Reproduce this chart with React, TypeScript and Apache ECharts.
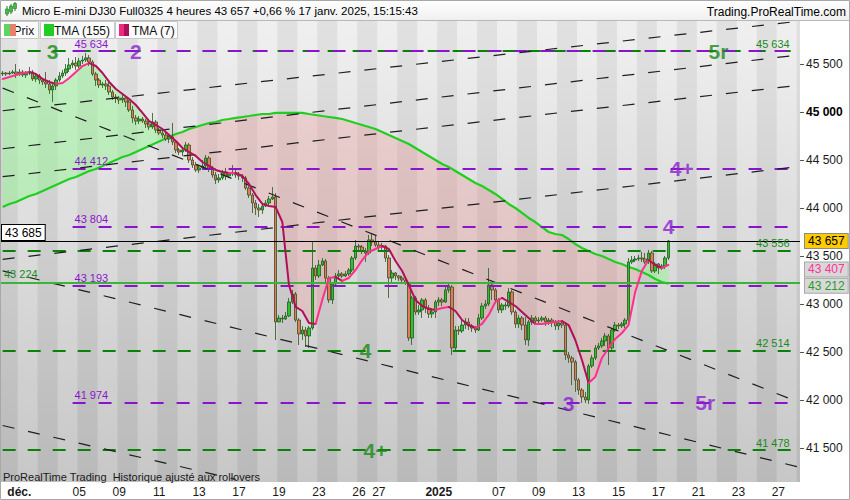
import React, { useEffect, useRef } from "react";
import * as echarts from "echarts";

// ---- DATA ----
// 4-hour candles: [open, close, low, high]
const candles: number[][] = [
  [45396, 45406, 45375, 45427], [45406, 45396, 45375, 45417], [45396, 45406, 45385, 45427], [45406, 45417, 45396, 45438],
  [45417, 45396, 45354, 45500], [45396, 45417, 45375, 45448], [45417, 45385, 45365, 45438], [45385, 45406, 45354, 45427],
  [45406, 45417, 45385, 45469], [45417, 45344, 45323, 45438], [45344, 45375, 45313, 45396], [45375, 45333, 45292, 45396],
  [45333, 45313, 45281, 45354], [45313, 45292, 45250, 45417], [45292, 45229, 45188, 45333], [45229, 45271, 45104, 45292],
  [45271, 45333, 45229, 45354], [45333, 45375, 45313, 45417], [45375, 45406, 45354, 45438], [45406, 45448, 45375, 45500],
  [45448, 45490, 45417, 45563], [45490, 45510, 45458, 45542], [45510, 45479, 45438, 45573], [45479, 45531, 45458, 45563],
  [45531, 45542, 45500, 45584], [45542, 45563, 45521, 45615], [45563, 45521, 45479, 45594], [45521, 45396, 45375, 45542],
  [45396, 45333, 45271, 45417], [45333, 45281, 45250, 45354], [45281, 45292, 45250, 45313], [45292, 45271, 45229, 45333],
  [45271, 45208, 45177, 45313], [45208, 45156, 45125, 45229], [45156, 45146, 45094, 45188], [45146, 45125, 45083, 45167],
  [45125, 45146, 45094, 45177], [45146, 45104, 45052, 45167], [45104, 45021, 45000, 45125], [45021, 44938, 44885, 45063],
  [44938, 44906, 44865, 44969], [44906, 44927, 44875, 44958], [44927, 44906, 44885, 44948], [44906, 44875, 44833, 44927],
  [44875, 44844, 44812, 44927], [44844, 44896, 44823, 44990], [44896, 44812, 44781, 44917], [44812, 44781, 44760, 44833],
  [44781, 44760, 44729, 44812], [44760, 44719, 44698, 44792], [44719, 44740, 44677, 44771], [44740, 44688, 44656, 44885],
  [44688, 44604, 44573, 44708], [44604, 44583, 44552, 44625], [44583, 44604, 44542, 44625], [44604, 44656, 44583, 44688],
  [44656, 44500, 44469, 44677], [44500, 44448, 44417, 44531], [44448, 44396, 44375, 44479], [44396, 44417, 44365, 44448],
  [44417, 44438, 44396, 44500], [44438, 44521, 44417, 44552], [44521, 44417, 44375, 44542], [44417, 44344, 44313, 44438],
  [44344, 44292, 44250, 44375], [44292, 44313, 44261, 44354], [44313, 44375, 44292, 44396], [44375, 44333, 44292, 44417],
  [44333, 44354, 44313, 44375], [44354, 44365, 44333, 44448], [44365, 44344, 44313, 44396], [44344, 44333, 44292, 44375],
  [44333, 44313, 44271, 44354], [44313, 44208, 44188, 44333], [44208, 44135, 44104, 44229], [44135, 44052, 43948, 44156],
  [44052, 44000, 43927, 44083], [44000, 43979, 43906, 44042], [43979, 44021, 43938, 44052], [44021, 44052, 44010, 44083],
  [44052, 44094, 44031, 44125], [44094, 44115, 44083, 44219], [44115, 42813, 42625, 44156], [42813, 42854, 42813, 42886],
  [42854, 42844, 42802, 42886], [42844, 42875, 42833, 42917], [42875, 43021, 42865, 43063], [43021, 43104, 43000, 43146],
  [43104, 42833, 42813, 43125], [42833, 42688, 42573, 42854], [42688, 42729, 42625, 42771], [42729, 42667, 42552, 42761],
  [42667, 42750, 42542, 42771], [42750, 43375, 42729, 43646], [43375, 43292, 43250, 43406], [43292, 43406, 43271, 43458],
  [43406, 43448, 43396, 43479], [43448, 43271, 43229, 43469], [43271, 43042, 43011, 43292], [43042, 43208, 43000, 43229],
  [43208, 43292, 43188, 43323], [43292, 43313, 43271, 43354], [43313, 43292, 43271, 43333], [43292, 43313, 43281, 43344],
  [43313, 43354, 43292, 43375], [43354, 43479, 43333, 43500], [43479, 43604, 43458, 43667], [43604, 43594, 43542, 43625],
  [43594, 43552, 43521, 43615], [43552, 43531, 43438, 43583], [43531, 43667, 43510, 43719], [43667, 43646, 43604, 43740],
  [43646, 43615, 43594, 43708], [43615, 43594, 43563, 43646], [43594, 43604, 43563, 43636], [43604, 43479, 43438, 43615],
  [43479, 43271, 43063, 43510], [43271, 43323, 43229, 43354], [43323, 43292, 43250, 43333], [43292, 43271, 43240, 43302],
  [43271, 43250, 43219, 43292], [43250, 43219, 43198, 43271], [43219, 42646, 42615, 43229], [42646, 43063, 42573, 43084],
  [43063, 42917, 42886, 43084], [42917, 42938, 42886, 42990], [42938, 43042, 42854, 43063], [43042, 42958, 42906, 43063],
  [42958, 42896, 42854, 42990], [42896, 42917, 42854, 42958], [42917, 43021, 42854, 43042], [43021, 43042, 42979, 43073],
  [43042, 43021, 42979, 43063], [43021, 43146, 43011, 43188], [43146, 43177, 43115, 43219], [43177, 42542, 42469, 43198],
  [42542, 42729, 42500, 42771], [42729, 42719, 42677, 42771], [42719, 42781, 42698, 42833], [42781, 42813, 42740, 42854],
  [42813, 42771, 42729, 42854], [42771, 42750, 42709, 42792], [42750, 42729, 42698, 42771], [42729, 42854, 42719, 42896],
  [42854, 42979, 42833, 43011], [42979, 43000, 42948, 43042], [43000, 43198, 42979, 43375], [43198, 43146, 43042, 43229],
  [43146, 43042, 43011, 43167], [43042, 42938, 42906, 43063], [42938, 42990, 42906, 43011], [42990, 42979, 42938, 43021],
  [42979, 43125, 42958, 43167], [43125, 42917, 42886, 43146], [42917, 42792, 42750, 42938], [42792, 42854, 42750, 42886],
  [42854, 42781, 42729, 42875], [42781, 42625, 42573, 42865], [42625, 42813, 42563, 42833], [42813, 42854, 42781, 42886],
  [42854, 42823, 42792, 42875], [42823, 42833, 42802, 42865], [42833, 42854, 42813, 42875], [42854, 42813, 42771, 42875],
  [42813, 42833, 42781, 42854], [42833, 42813, 42761, 42854], [42813, 42771, 42729, 42833], [42771, 42802, 42729, 42833],
  [42802, 42781, 42750, 42823], [42781, 42469, 42417, 42813], [42469, 42438, 42386, 42500], [42438, 42396, 42156, 42459],
  [42396, 42208, 42084, 42417], [42208, 42104, 42052, 42229], [42104, 42031, 41969, 42125], [42031, 42000, 41969, 42084],
  [42000, 42354, 41959, 42375], [42354, 42438, 42334, 42469], [42438, 42542, 42417, 42573], [42542, 42563, 42521, 42594],
  [42563, 42615, 42542, 42646], [42615, 42667, 42563, 42698], [42667, 42542, 42365, 42688], [42542, 42729, 42521, 42750],
  [42729, 42781, 42709, 42813], [42781, 42771, 42740, 42802], [42771, 42792, 42750, 42813], [42792, 42833, 42750, 42854],
  [42833, 43438, 42813, 43479], [43438, 43458, 43417, 43500], [43458, 43469, 43438, 43500], [43469, 43479, 43448, 43510],
  [43479, 43469, 43438, 43542], [43469, 43438, 43417, 43531], [43438, 43531, 43417, 43563], [43531, 43344, 43323, 43552],
  [43344, 43417, 43323, 43438], [43417, 43375, 43313, 43427], [43375, 43396, 43354, 43417], [43396, 43479, 43365, 43500],
  [43479, 43657, 43458, 43667],
];

// TMA(7), read every second bar (bars 0, 2, 4, ... 200)
const tma7: number[] = [
  45344, 45365, 45385, 45406, 45417, 45396, 45344, 45313, 45292, 45302, 45354, 45417, 45479, 45510, 45479, 45406,
  45313, 45240, 45188, 45135, 45073, 44990, 44906, 44865, 44823, 44760, 44698, 44625, 44583, 44542, 44479, 44438,
  44396, 44375, 44365, 44365, 44333, 44250, 44135, 44042, 44021, 44010, 43854, 43198, 42969, 42927, 42802, 42792,
  43042, 43271, 43281, 43240, 43271, 43354, 43458, 43542, 43573, 43604, 43573, 43448, 43344, 43198, 43042, 42979,
  42948, 42938, 42958, 42969, 42927, 42833, 42781, 42750, 42792, 42886, 43021, 43063, 43021, 42979, 42917, 42854,
  42792, 42792, 42802, 42813, 42823, 42781, 42625, 42417, 42177, 42240, 42438, 42542, 42636, 42698, 42781, 43125,
  43344, 43458, 43406, 43375, 43407,
];

// TMA(155), read every second bar (bars 0, 2, 4, ... 200)
const tma155: number[] = [
  44010, 44042, 44063, 44094, 44125, 44146, 44177, 44208, 44240, 44271, 44302, 44323, 44354, 44386, 44406, 44438,
  44469, 44500, 44531, 44552, 44583, 44615, 44646, 44677, 44708, 44740, 44771, 44792, 44823, 44844, 44865, 44885,
  44896, 44917, 44927, 44938, 44948, 44958, 44969, 44979, 44979, 44990, 44990, 44990, 44990, 44990, 44979, 44969,
  44958, 44948, 44938, 44927, 44906, 44885, 44865, 44844, 44823, 44792, 44760, 44729, 44698, 44667, 44625, 44583,
  44542, 44500, 44458, 44427, 44386, 44344, 44302, 44261, 44229, 44188, 44146, 44094, 44042, 44000, 43948, 43896,
  43854, 43802, 43750, 43729, 43719, 43677, 43625, 43583, 43552, 43521, 43500, 43469, 43438, 43417, 43386, 43365,
  43333, 43302, 43261, 43229, 43212,
];

// trading days shown on the time axis (from 2 Dec 2024)
const dayLabels = [
  "déc.", "03", "04", "05", "06", "09", "10", "11", "12", "13", "16", "17", "18", "19", "20", "23", "24", "26", "27", "30",
  "31", "2025", "03", "06", "07", "08", "09", "10", "13", "14", "15", "16", "17", "20", "21", "22", "23", "24", "27", "28",
];
const shownDays = [0, 3, 5, 7, 9, 11, 13, 15, 17, 18, 21, 24, 26, 28, 30, 32, 34, 36, 38];
const boldDays = ["déc.", "2025"];
const yTicks = [41500, 42000, 42500, 43000, 43500, 44000, 44500, 45000, 45500];

const greenLevels = [45634, 43556, 42514, 41478];
const purpleLevels = [45634, 44412, 43804, 43193, 41974];
const pivotLevel = 43224;
const refBoxValue = 43685;
const lastPrice = 43657;
const changePct = "+0,66 %";
const tma7Last = 43407;
const tma155Last = 43212;

// trend lines: [bar A, price A, bar B, price B]
const trendLines: number[][] = [
  [0, 45013, 239, 45945],
  [0, 44617, 239, 45594],
  [0, 44326, 239, 45278],
  [0, 43465, 239, 44431],
  [0, 45249, 239, 41979],
  [0, 43345, 239, 41302],
  [0, 41734, 70, 41173],
];

// wave labels: [text, bar, price, colour]
const waveLabels: (string | number)[][] = [
  ["3", 15, 45634, "g"], ["2", 40, 45634, "p"], ["5r", 215, 45634, "g"],
  ["4+", 204, 44412, "p"], ["4", 200, 43804, "p"], ["4", 109, 42514, "g"],
  ["3", 170, 41960, "p"], ["5r", 211, 41974, "p"], ["4+", 112, 41478, "g"],
];

// ---- LAYOUT ----
const SLOT_COUNT = 240;
const PRE_SLOTS = 5;
const BARS_PER_DAY = 6;
const FONT = '"Liberation Sans", Arial, sans-serif';
const GREEN_DASH = "#0a820a";
const GREEN_TXT = "#1a8a1a";
const PURPLE = "#8a14cc";
const PINK = "#ff2f8e";
const MAROON = "#b0105a";
const CLEAR = "rgba(0,0,0,0)";

const fmt = (v: number) => String(Math.round(v)).replace(/\B(?=(\d{3})+(?!\d))/g, " ");

const categories = Array.from({ length: SLOT_COUNT }, (_, i) => String(i));
const labelOf: Record<number, string> = {};
shownDays.forEach((d) => {
  labelOf[PRE_SLOTS + d * BARS_PER_DAY] = dayLabels[d];
});
const isDayStart = (i: number) => i === 0 || (i >= PRE_SLOTS && (i - PRE_SLOTS) % BARS_PER_DAY === 0);

function buildOption() {
  const bgGrad = new echarts.graphic.LinearGradient(0, 0, 0, 1, [
    { offset: 0, color: "#efefef" },
    { offset: 1, color: "#c4c4c4" },
  ]);
  const titleGrad = new echarts.graphic.LinearGradient(0, 0, 0, 1, [
    { offset: 0, color: "#ffffff" },
    { offset: 1, color: "#efefef" },
  ]);

  const levelLines: any[] = [];
  greenLevels.forEach((v) => {
    levelLines.push([
      {
        coord: [0, v],
        lineStyle: { color: GREEN_DASH, width: 2, type: [13, 12] },
        label: { show: true, position: "insideEndTop", formatter: fmt(v), color: GREEN_TXT, fontSize: 11, distance: 2 },
      },
      { coord: [237, v] },
    ]);
  });
  purpleLevels.forEach((v) => {
    levelLines.push([
      {
        coord: [21, v],
        lineStyle: { color: PURPLE, width: 2, type: [13, 13] },
        label: { show: true, position: "insideStartTop", formatter: fmt(v), color: PURPLE, fontSize: 11, distance: 2 },
      },
      { coord: [238, v] },
    ]);
  });
  trendLines.forEach(([a, pa, b, pb]) => {
    levelLines.push([
      { coord: [a, pa], lineStyle: { color: "#1e1e1e", width: 1.2, type: [12, 14] }, label: { show: false } },
      { coord: [b, pb] },
    ]);
  });
  const boxLabel = (text: string, color: string, bg: string, border: string, dy: number) => ({
    show: true,
    position: "end",
    formatter: text,
    color,
    backgroundColor: bg,
    borderColor: border,
    borderWidth: 1,
    padding: [1, 3, 1, 3],
    lineHeight: 12,
    fontSize: 12,
    distance: 5,
    offset: [0, dy],
  });
  levelLines.push({
    yAxis: pivotLevel,
    lineStyle: { color: "#3cb43c", width: 2, type: "solid" },
    label: { show: true, position: "insideStartTop", formatter: fmt(pivotLevel), color: GREEN_TXT, fontSize: 11, distance: 3 },
  });
  levelLines.push({
    yAxis: tma155Last,
    lineStyle: { color: CLEAR, width: 0 },
    label: boxLabel(fmt(tma155Last), "#2a9a2a", "#d8d8d8", "#a8a8a8", 2),
  });
  levelLines.push({
    yAxis: tma7Last,
    lineStyle: { color: CLEAR, width: 0 },
    label: boxLabel(fmt(tma7Last), "#ff3399", "#d8d8d8", "#a8a8a8", 4.5),
  });
  levelLines.push({
    yAxis: lastPrice,
    lineStyle: { color: "#000000", width: 1, type: "solid" },
    label: boxLabel(fmt(lastPrice), "#000000", "#ffcc00", "#8a8a8a", 0),
  });
  levelLines.push({
    yAxis: lastPrice,
    lineStyle: { color: CLEAR, width: 0 },
    label: {
      show: true,
      position: "insideStartTop",
      formatter: fmt(refBoxValue),
      color: "#000",
      backgroundColor: "#ffffff",
      borderColor: "#000000",
      borderWidth: 1,
      padding: [2, 3, 1, 3],
      fontSize: 12,
      distance: 1,
    },
  });

  const fillSeries = {
    type: "custom",
    z: 1,
    silent: true,
    data: [[0, tma155[0]]],
    renderItem: (_params: any, api: any) => {
      const p7 = tma7.map((v, k) => api.coord([k * 2, v]));
      const pb = tma155.map((v, k) => api.coord([k * 2, v]));
      const d = tma7.map((v, k) => v - tma155[k]);
      const regions: { pts: number[][]; up: boolean }[] = [];
      let top: number[][] = [p7[0]];
      let bot: number[][] = [pb[0]];
      let sign = d[0] >= 0;
      for (let k = 1; k < p7.length; k++) {
        const s = d[k] >= 0;
        if (s !== sign) {
          const t = d[k - 1] / (d[k - 1] - d[k]);
          const c = [
            p7[k - 1][0] + (p7[k][0] - p7[k - 1][0]) * t,
            p7[k - 1][1] + (p7[k][1] - p7[k - 1][1]) * t,
          ];
          top.push(c);
          bot.push(c);
          regions.push({ pts: top.concat(bot.slice().reverse()), up: sign });
          top = [c];
          bot = [c];
          sign = s;
        }
        top.push(p7[k]);
        bot.push(pb[k]);
      }
      regions.push({ pts: top.concat(bot.slice().reverse()), up: sign });
      return {
        type: "group",
        children: regions.map((r) => ({
          type: "polygon",
          shape: { points: r.pts },
          style: { fill: r.up ? "rgba(150,245,150,0.5)" : "rgba(240,150,150,0.32)", stroke: null },
        })),
      };
    },
  };

  const tma7Series = {
    type: "custom",
    z: 5,
    silent: true,
    data: [[0, tma7[0]]],
    renderItem: (_params: any, api: any) => {
      const pts = tma7.map((v, k) => api.coord([k * 2, v]));
      const children: any[] = [];
      let run: number[][] = [pts[0]];
      let up = tma7[1] >= tma7[0];
      for (let k = 1; k < pts.length; k++) {
        const u = tma7[k] >= tma7[k - 1];
        if (u !== up) {
          children.push({
            type: "polyline",
            shape: { points: run },
            style: { stroke: up ? PINK : MAROON, lineWidth: 2, fill: null, lineJoin: "round", lineCap: "round" },
          });
          run = [pts[k - 1]];
          up = u;
        }
        run.push(pts[k]);
      }
      children.push({
        type: "polyline",
        shape: { points: run },
        style: { stroke: up ? PINK : MAROON, lineWidth: 2, fill: null, lineJoin: "round", lineCap: "round" },
      });
      return { type: "group", children };
    },
  };

  const graphic: any[] = [
    { type: "rect", shape: { x: 0, y: 0, width: 850, height: 21 }, style: { fill: titleGrad }, z: 100 },
    { type: "line", shape: { x1: 0, y1: 20.5, x2: 850, y2: 20.5 }, style: { stroke: "#b8b8b8", lineWidth: 1 }, z: 101 },
    { type: "line", shape: { x1: 7, y1: 6, x2: 7, y2: 16 }, style: { stroke: "#2a7a2a", lineWidth: 1 }, z: 101 },
    { type: "rect", shape: { x: 5.5, y: 9, width: 3, height: 5 }, style: { fill: "#44bb44", stroke: "#2a7a2a", lineWidth: 0.6 }, z: 102 },
    { type: "line", shape: { x1: 11, y1: 4, x2: 11, y2: 14 }, style: { stroke: "#2a7a2a", lineWidth: 1 }, z: 101 },
    { type: "rect", shape: { x: 9.5, y: 6, width: 3, height: 6 }, style: { fill: "#44bb44", stroke: "#2a7a2a", lineWidth: 0.6 }, z: 102 },
    { type: "line", shape: { x1: 15, y1: 2, x2: 15, y2: 11 }, style: { stroke: "#2a7a2a", lineWidth: 1 }, z: 101 },
    { type: "rect", shape: { x: 13.5, y: 3.5, width: 3, height: 5 }, style: { fill: "#44bb44", stroke: "#2a7a2a", lineWidth: 0.6 }, z: 102 },
    {
      type: "text",
      x: 22,
      y: 11,
      style: {
        text: `Micro E-mini DJ30 Full0325 4 heures ${fmt(lastPrice)} ${changePct} 17 janv. 2025, 15:15:43`,
        font: `11.5px ${FONT}`,
        fill: "#000",
        textVerticalAlign: "middle",
      },
      z: 102,
    },
    {
      type: "text",
      x: 846,
      y: 12,
      style: { text: "Trading.ProRealTime.com", font: `12px ${FONT}`, fill: "#000", textAlign: "right", textVerticalAlign: "middle" },
      z: 102,
    },
    // legend
    { type: "rect", shape: { x: 0.5, y: 21.5, width: 38, height: 17 }, style: { fill: "#fbfbfb", stroke: "#c8c8c8", lineWidth: 1 }, z: 100 },
    { type: "text", x: 13.5, y: 30.5, style: { text: "Prix", font: `12px ${FONT}`, fill: "#111", textVerticalAlign: "middle" }, z: 101 },
    { type: "rect", shape: { x: 4, y: 24, width: 6, height: 12 }, style: { fill: "#5fd35f" }, z: 102 },
    { type: "rect", shape: { x: 10, y: 24, width: 6, height: 12 }, style: { fill: "#e8806e" }, z: 102 },
    { type: "rect", shape: { x: 40.5, y: 21.5, width: 74, height: 17 }, style: { fill: "#fbfbfb", stroke: "#c8c8c8", lineWidth: 1 }, z: 100 },
    { type: "rect", shape: { x: 44, y: 24, width: 10, height: 12 }, style: { fill: "#22cc22" }, z: 102 },
    { type: "text", x: 54, y: 30.5, style: { text: "TMA (155)", font: `12px ${FONT}`, fill: "#111", textVerticalAlign: "middle" }, z: 101 },
    { type: "rect", shape: { x: 115.5, y: 21.5, width: 62, height: 17 }, style: { fill: "#fbfbfb", stroke: "#c8c8c8", lineWidth: 1 }, z: 100 },
    { type: "rect", shape: { x: 119, y: 24, width: 5, height: 12 }, style: { fill: "#ee2a80" }, z: 102 },
    { type: "rect", shape: { x: 124, y: 24, width: 5, height: 12 }, style: { fill: "#a8105a" }, z: 102 },
    { type: "text", x: 132, y: 30.5, style: { text: "TMA (7)", font: `12px ${FONT}`, fill: "#111", textVerticalAlign: "middle" }, z: 101 },
    {
      type: "text",
      x: 3,
      y: 476.5,
      style: { text: "ProRealTime Trading  Historique ajusté aux rollovers", font: `11px ${FONT}`, fill: "#1a1a1a", textVerticalAlign: "middle" },
      z: 101,
    },
    { type: "rect", shape: { x: 0.5, y: 0.5, width: 849, height: 499 }, style: { fill: "none", stroke: "#a8a8a8", lineWidth: 1 }, z: 110 },
  ];

  return {
    animation: false,
    backgroundColor: "#ffffff",
    textStyle: { fontFamily: FONT },
    grid: {
      left: 1,
      right: 50,
      top: 21,
      bottom: 18,
      show: true,
      backgroundColor: bgGrad,
      borderWidth: 0,
      containLabel: false,
      outerBoundsMode: "none",
    },
    xAxis: {
      type: "category",
      data: categories,
      boundaryGap: true,
      axisLine: { show: false },
      axisTick: { show: false },
      splitLine: { show: false },
      splitArea: {
        show: true,
        interval: (i: number) => isDayStart(i),
        areaStyle: { color: ["rgba(0,0,0,0.055)", "rgba(255,255,255,0.06)"] },
      },
      axisLabel: {
        interval: (i: number) => !!labelOf[i],
        formatter: (_v: string, i: number) => {
          const t = labelOf[i] || "";
          return boldDays.includes(t) ? `{b|${t}}` : `{n|${t}}`;
        },
        margin: 4,
        color: "#1a1a1a",
        fontSize: 12,
        rich: {
          b: { fontWeight: "bold", fontSize: 12, color: "#1a1a1a" },
          n: { fontSize: 12, color: "#1a1a1a" },
        },
      },
    },
    yAxis: {
      type: "value",
      position: "right",
      min: 41145.8,
      max: 45947.9,
      splitLine: { show: false },
      axisLine: { show: false },
      axisTick: { show: true, length: 4, lineStyle: { color: "#555" }, customValues: yTicks },
      axisLabel: {
        customValues: yTicks,
        margin: 6,
        color: "#1a1a1a",
        fontSize: 12,
        lineHeight: 12,
        formatter: (v: number) => (v === 45000 ? `{b|${fmt(v)}}` : fmt(v)),
        rich: { b: { fontWeight: "bold", fontSize: 12, lineHeight: 12, color: "#000" } },
      },
    },
    series: [
      fillSeries,
      {
        type: "line",
        z: 2,
        silent: true,
        symbol: "none",
        showSymbol: false,
        data: tma155.map((v, k) => [k * 2, v]),
        lineStyle: { color: "#1fcf1f", width: 2.2 },
      },
      {
        type: "candlestick",
        z: 3,
        silent: true,
        barWidth: 3,
        data: candles,
        itemStyle: {
          color: "#2fbf2f",
          color0: "#e8775f",
          borderColor: "#1d5a1d",
          borderColor0: "#34501c",
          borderWidth: 0.8,
        },
        markLine: {
          silent: true,
          symbol: ["none", "none"],
          animation: false,
          data: levelLines,
        },
      },
      tma7Series,
      {
        type: "scatter",
        z: 6,
        silent: true,
        symbolSize: 1,
        itemStyle: { color: "rgba(0,0,0,0)" },
        data: waveLabels.map(([t, s, v, c]) => ({
          value: [s, v],
          label: {
            show: true,
            position: "inside",
            formatter: String(t),
            color: c === "g" ? "#168a16" : "#8a1fd0",
            fontSize: 21,
            fontWeight: "bold",
            fontFamily: FONT,
          },
        })),
      },
    ],
    graphic,
  };
}

export default function App() {
  const ref = useRef<HTMLDivElement>(null);
  useEffect(() => {
    if (!ref.current) return;
    const chart = echarts.init(ref.current, undefined, { renderer: "svg" });
    chart.setOption(buildOption() as any);
    return () => chart.dispose();
  }, []);
  return <div ref={ref} style={{ position: "absolute", left: 0, top: 0, width: 850, height: 500 }} />;
}
